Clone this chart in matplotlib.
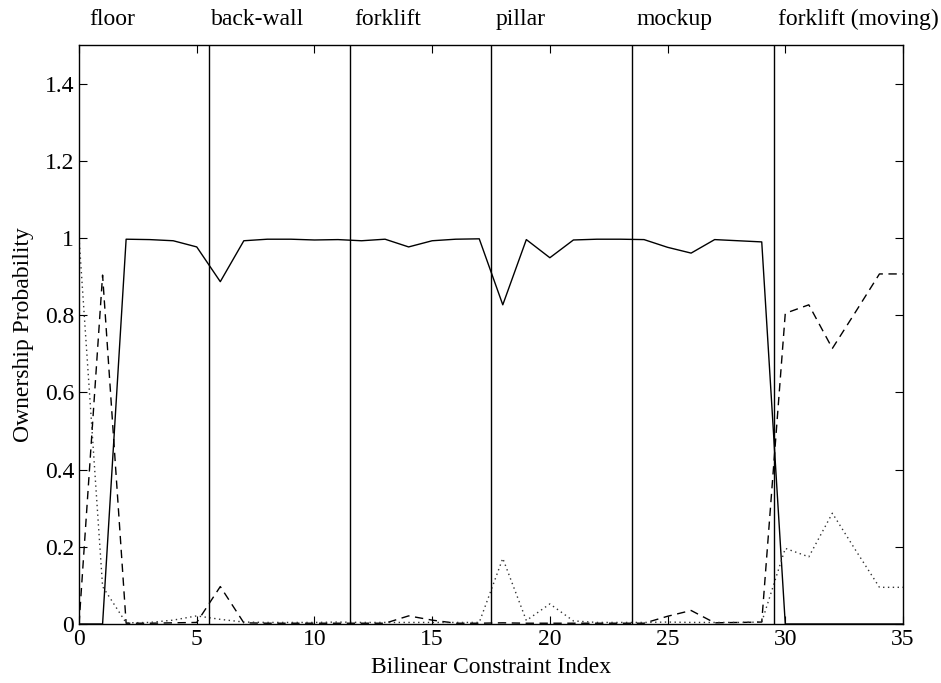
import numpy as np
import matplotlib
matplotlib.use("Agg")
import matplotlib.pyplot as plt

# ------------------------------
# Data
# ------------------------------
idx = np.arange(36)

solid = [0.0, 0.0, 0.997, 0.996, 0.993, 0.977, 0.887, 0.993, 0.997, 0.997,
         0.995, 0.996, 0.993, 0.997, 0.977, 0.993, 0.997, 0.998, 0.827, 0.996,
         0.949, 0.995, 0.997, 0.997, 0.996, 0.976, 0.961, 0.996, 0.993, 0.990,
         0.0, 0.0, 0.0, 0.0, 0.0, 0.0]

dashed = [0.0, 0.904, 0.002, 0.002, 0.003, 0.004, 0.097, 0.003, 0.002, 0.002,
          0.002, 0.002, 0.002, 0.002, 0.021, 0.010, 0.002, 0.002, 0.003, 0.002,
          0.002, 0.002, 0.002, 0.002, 0.002, 0.020, 0.035, 0.003, 0.004, 0.005,
          0.805, 0.827, 0.714, 0.810, 0.907, 0.907]

dotted = [1.0, 0.097, 0.003, 0.004, 0.010, 0.021, 0.012, 0.005, 0.004, 0.004,
          0.004, 0.005, 0.004, 0.004, 0.004, 0.004, 0.004, 0.004, 0.170, 0.009,
          0.052, 0.008, 0.004, 0.004, 0.004, 0.005, 0.004, 0.004, 0.004, 0.005,
          0.196, 0.174, 0.287, 0.190, 0.095, 0.095]

boundaries = [5.5, 11.5, 17.5, 23.5, 29.5]
segment_labels = ["floor", "back-wall", "forklift", "pillar", "mockup",
                  "forklift (moving)"]
label_pos = [0.45, 5.6, 11.7, 17.7, 23.7, 29.7]

# ------------------------------
# Plot
# ------------------------------
plt.rcParams["font.family"] = ["Liberation Serif", "DejaVu Serif"]
plt.rcParams["font.size"] = 17

fig = plt.figure(figsize=(9.41, 6.83), dpi=100)
ax = fig.add_axes([0.084, 0.0864, 0.8756, 0.8476])

ax.plot(idx, solid, color="black", lw=1.0, linestyle="-")
ax.plot(idx, dashed, color="black", lw=1.0, linestyle=(0, (6, 4)))
ax.plot(idx, dotted, color="#333333", lw=1.0, linestyle=(0, (1, 2.5)))

for b in boundaries:
    ax.axvline(b, color="black", lw=1.0)

for pos, lab in zip(label_pos, segment_labels):
    ax.text(pos, 1.553, lab, ha="left", va="baseline", fontsize=17)

ax.set_xlim(0, 35)
ax.set_ylim(0, 1.5)
ax.set_xticks(np.arange(0, 36, 5))
ax.set_yticks([0, 0.2, 0.4, 0.6, 0.8, 1, 1.2, 1.4])
ax.set_yticklabels(["0", "0.2", "0.4", "0.6", "0.8", "1", "1.2", "1.4"])
ax.tick_params(direction="in", top=True, right=True, length=6, width=0.8,
               labelsize=17)
for s in ax.spines.values():
    s.set_linewidth(1.0)

ax.set_xlabel("Bilinear Constraint Index", fontsize=17, labelpad=5)
ax.set_ylabel("Ownership Probability", fontsize=17, labelpad=8)

plt.savefig("out.png", dpi=100)
